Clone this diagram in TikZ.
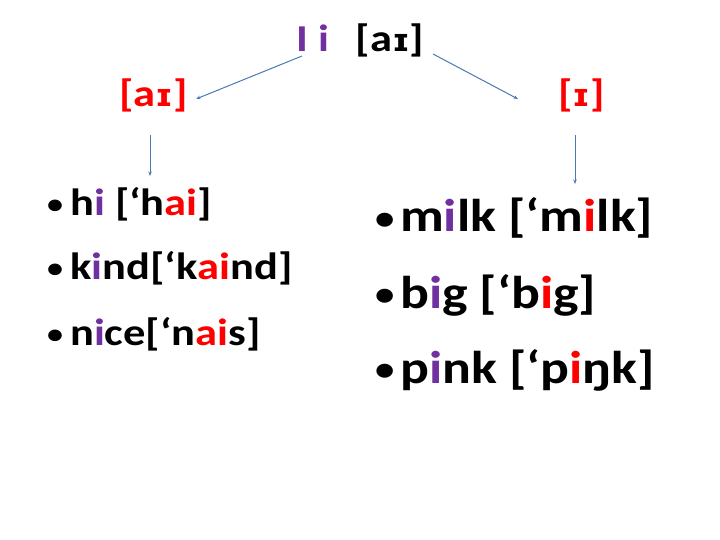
\documentclass[tikz,border=0pt]{standalone}
\usepackage{fontspec}
\setmainfont{Carlito}[FakeStretch=1.17]
\newfontfamily\ipafont{DejaVu Sans}[FakeStretch=1.05]
\usepackage{xcolor}
\usetikzlibrary{arrows.meta}
\definecolor{lilac}{HTML}{7030A0}
\definecolor{pptred}{HTML}{FF0000}
\definecolor{linkblue}{HTML}{4A7AB5}
\newcommand{\pu}[1]{\textcolor{lilac}{#1}}
\newcommand{\rd}[1]{\textcolor{pptred}{#1}}
\newcommand{\smallI}{{\ipafont\fontsize{0.82\dimexpr\fontdimen6\font\relax}{1em}\selectfont ɪ}}
\newcommand{\bul}[1]{\makebox[#1][l]{\raisebox{0.05em}{\scalebox{0.72}{•}}}}
\begin{document}
\begin{tikzpicture}[x=1pt,y=-1pt,
    word/.style={anchor=base west,inner sep=0pt},
    link/.style={linkblue,line width=1pt,-{Stealth[length=4.5pt,width=3.5pt]}}]
          \useasboundingbox (0,0) rectangle (720,540);
          % heading and the two sounds
          \node[word,font=\fontsize{38}{44}\bfseries] (title) at (296,52) {\pu{I i}\hspace{0.7em}[a\smallI]};
          \node[word,font=\fontsize{38}{44}\bfseries,pptred] (long) at (119,107) {[a\smallI]};
          \node[word,font=\fontsize{38}{44}\bfseries,pptred] (short) at (558,107) {[\smallI]};

          % word lists
          \node[word,font=\fontsize{38}{44}\bfseries] (hi) at (47,215) {\bul{23pt}h\pu{i} [‘h\rd{ai}]};
          \node[word,font=\fontsize{38}{44}\bfseries] (kind) at (47,279) {\bul{23pt}k\pu{i}nd[‘k\rd{ai}nd]};
          \node[word,font=\fontsize{38}{44}\bfseries] (nice) at (47,345) {\bul{23pt}n\pu{i}ce[‘n\rd{ai}s]};
          \node[word,font=\fontsize{46}{52}\bfseries] (milk) at (375,232) {\bul{25pt}m\pu{i}lk [‘m\rd{i}lk]};
          \node[word,font=\fontsize{46}{52}\bfseries] (big) at (375,308) {\bul{25pt}b\pu{i}g [‘b\rd{i}g]};
          \node[word,font=\fontsize{46}{52}\bfseries] (pink) at (375,383) {\bul{25pt}p\pu{i}nk [‘p\rd{i}ŋk]};

          \coordinate (tl) at (302,56);
          \coordinate (tr) at (433,54);
          \coordinate (ll) at (196,99);
          \coordinate (rr) at (518,99);
          \coordinate (lt) at (150,135);
          \coordinate (lb) at (150,176);
          \coordinate (rt) at (575,135);
          \coordinate (rb) at (575,184);

          \draw[link] (tl) -- (ll);
          \draw[link] (tr) -- (rr);
          \draw[link] (lt) -- (lb);
          \draw[link] (rt) -- (rb);
\end{tikzpicture}
\end{document}
